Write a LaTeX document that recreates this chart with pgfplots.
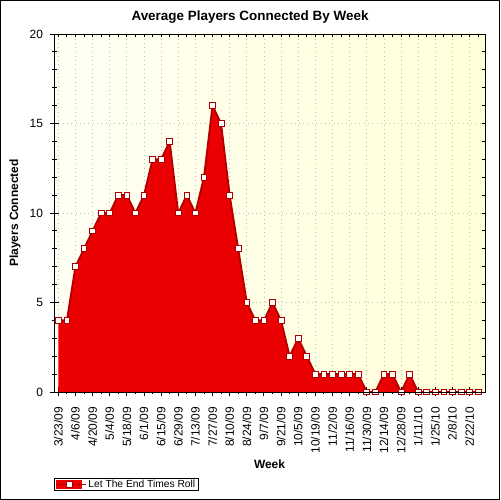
\documentclass[border=0pt]{standalone}
\usepackage{pgfplots}
\pgfplotsset{compat=1.18}
\usepackage{pgfplotstable}
\usepackage{fontspec}
\setmainfont{Liberation Sans}
\definecolor{fillred}{RGB}{234,0,0}
\definecolor{edgered}{RGB}{178,0,0}
\definecolor{bgl}{RGB}{255,255,244}
\definecolor{bgr}{RGB}{255,255,216}
\definecolor{gridc}{RGB}{190,190,190}
\pgfplotstableread{
x y
0 4
1 4
2 7
3 8
4 9
5 10
6 10
7 11
8 11
9 10
10 11
11 13
12 13
13 14
14 10
15 11
16 10
17 12
18 16
19 15
20 11
21 8
22 5
23 4
24 4
25 5
26 4
27 2
28 3
29 2
30 1
31 1
32 1
33 1
34 1
35 1
36 0
37 0
38 1
39 1
40 0
41 1
42 0
43 0
44 0
45 0
46 0
47 0
48 0
49 0
}\datatable
\begin{document}
\begin{tikzpicture}[x=1bp,y=1bp]
\useasboundingbox (0,0) rectangle (500,500);
\fill[white] (0,0) rectangle (500,500);
\draw[black,line width=1.2bp] (0.6,0.6) rectangle (499.4,499.4);
\begin{axis}[
  at={(54bp,108bp)}, anchor=south west,
  width=431bp, height=358bp, scale only axis,
  xmin=-0.5, xmax=49.8, ymin=0, ymax=20,
  axis background/.style={left color=bgl, right color=bgr},
  axis line style={black, line width=0.9bp},
  xtick={0,2,...,48},
  minor xtick={1,3,...,49},
  xticklabels={3/23/09,4/6/09,4/20/09,5/4/09,5/18/09,6/1/09,6/15/09,6/29/09,7/13/09,7/27/09,8/10/09,8/24/09,9/7/09,9/21/09,10/5/09,10/19/09,11/2/09,11/16/09,11/30/09,12/14/09,12/28/09,1/11/10,1/25/10,2/8/10,2/22/10},
  ytick={0,5,...,20},
  minor ytick={1,...,19},
  xtick pos=bottom, ytick pos=left,
  tick align=center,
  major tick length=9bp, minor tick length=5bp,
  tick style={black, line width=0.9bp},
  grid=major,
  major grid style={gridc, line width=0.8bp, dash pattern=on 0.8bp off 3.5bp},
  /pgf/number format/assume math mode=true,
  tick label style={font=\fontsize{12}{12}\selectfont},
  xticklabel style={rotate=90, anchor=east},
  xticklabel shift=7bp,
  yticklabel shift=3bp,
  title={Average Players Connected By Week},
  title style={font=\fontsize{13.5}{14}\selectfont\bfseries, at={(0.4548,1.02)}, anchor=base},
  xlabel={Week},
  xlabel style={font=\fontsize{12}{12}\selectfont\bfseries, at={(0.5,-0.215)}, anchor=base},
  ylabel={Players Connected},
  ylabel style={font=\fontsize{12}{12}\selectfont\bfseries, at={(-0.0905,0.5)}, anchor=center, rotate=0},
  legend style={at={(0,-0.2765)}, anchor=south west, draw=black, line width=0.8bp, fill=white,
    font=\fontsize{10.3}{11}\selectfont, inner xsep=2bp, inner ysep=0.5bp,
    nodes={inner sep=1.2bp}},
  legend cell align=left,
]
\addplot[fill=fillred, draw=none, forget plot] table[x=x,y=y] {\datatable} \closedcycle;
\addplot[draw=edgered, line width=1.8bp, mark=square*, mark size=2.9bp,
  mark options={fill=white, draw=edgered, line width=0.8bp, solid},
  legend image code/.code={
    \path (0bp,0bp) -- (29bp,0bp);
    \fill[fillred] (0bp,-3.5bp) rectangle (24bp,3.5bp);
    \draw[edgered,line width=1.2bp] (0bp,0bp) -- (24bp,0bp);
    \draw[edgered, fill=white, line width=0.8bp] (9bp,-3bp) rectangle (15bp,3bp);
  }] table[x=x,y=y] {\datatable};
\addlegendentry{Let The End Times Roll}
\end{axis}
\begin{axis}[
  at={(54bp,108bp)}, anchor=south west,
  width=431bp, height=358bp, scale only axis,
  xmin=-0.5, xmax=49.8, ymin=0, ymax=20,
  axis line style={black, line width=0.9bp},
  xtick={0,...,49}, ytick={0,...,20},
  xticklabels={}, yticklabels={},
  xtick pos=top, ytick pos=right,
  tick align=inside, major tick length=3.5bp,
  tick style={black, line width=0.9bp},
]
\end{axis}
\end{tikzpicture}
\end{document}
